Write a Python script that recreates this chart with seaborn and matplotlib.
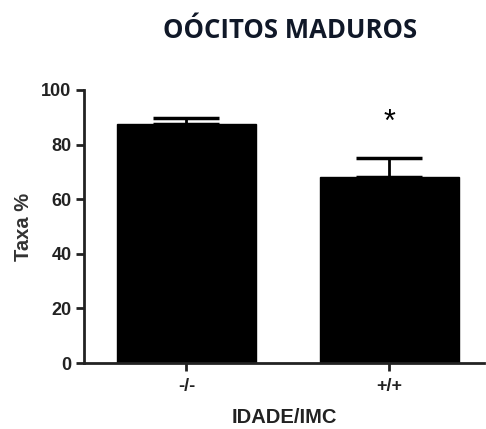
import matplotlib
matplotlib.use("Agg")
import matplotlib.pyplot as plt
import seaborn as sns
import pandas as pd

groups = ["-/-", "+/+"]
means = [87.5, 68.1]
sem = [2.2, 7.0]
y_ticks = [0, 20, 40, 60, 80, 100]

sns.set_style("ticks")
plt.rcParams["font.family"] = ["Liberation Sans", "DejaVu Sans"]

df = pd.DataFrame({"grupo": groups, "taxa": means})

fig = plt.figure(figsize=(4.86, 4.29), dpi=100)
ax = fig.add_axes([84 / 486, 1 - 363 / 429, 400 / 486, 273 / 429])

sns.barplot(data=df, x="grupo", y="taxa", color="black", width=0.685,
            edgecolor="black", linewidth=1, ax=ax, zorder=2)
for p in ax.patches:
    p.set_facecolor("black")

ax.errorbar(range(len(groups)), means, yerr=[[0] * len(sem), sem],
            fmt="none", ecolor="black", elinewidth=2, capsize=24,
            capthick=2.5, zorder=1)

ax.text(1, 88, "*", ha="center", va="center", fontsize=22,
        color="black")

ax.set_xlim(-0.505, 1.466)
ax.set_ylim(0, 100)
ax.set_yticks(y_ticks)
ax.set_yticklabels([str(t) for t in y_ticks], fontsize=13, fontweight="bold",
                   color="#222222")
ax.set_xticks(range(len(groups)))
ax.set_xticklabels(groups, fontsize=13, fontweight="bold", color="#222222")
ax.tick_params(axis="both", direction="out", length=6, width=2, color="#222222")
ax.tick_params(axis="x", pad=5)
ax.tick_params(axis="y", pad=3)

for side in ["top", "right"]:
    ax.spines[side].set_visible(False)
for side in ["left", "bottom"]:
    ax.spines[side].set_linewidth(2)
    ax.spines[side].set_color("#222222")

ax.set_xlabel("IDADE/IMC", fontsize=14.5, fontweight="bold", color="#222222",
              labelpad=9)
ax.set_ylabel("Taxa %", fontsize=14.5, fontweight="bold", color="#333333",
              labelpad=6)

fig.text(290 / 486, 1 - 31 / 429, "OÓCITOS MADUROS", ha="center", va="center",
         fontsize=18.5, fontweight="bold", family=["Open Sans", "DejaVu Sans"],
         color="#101828")

fig.savefig("out.png", dpi=100, facecolor="white")
